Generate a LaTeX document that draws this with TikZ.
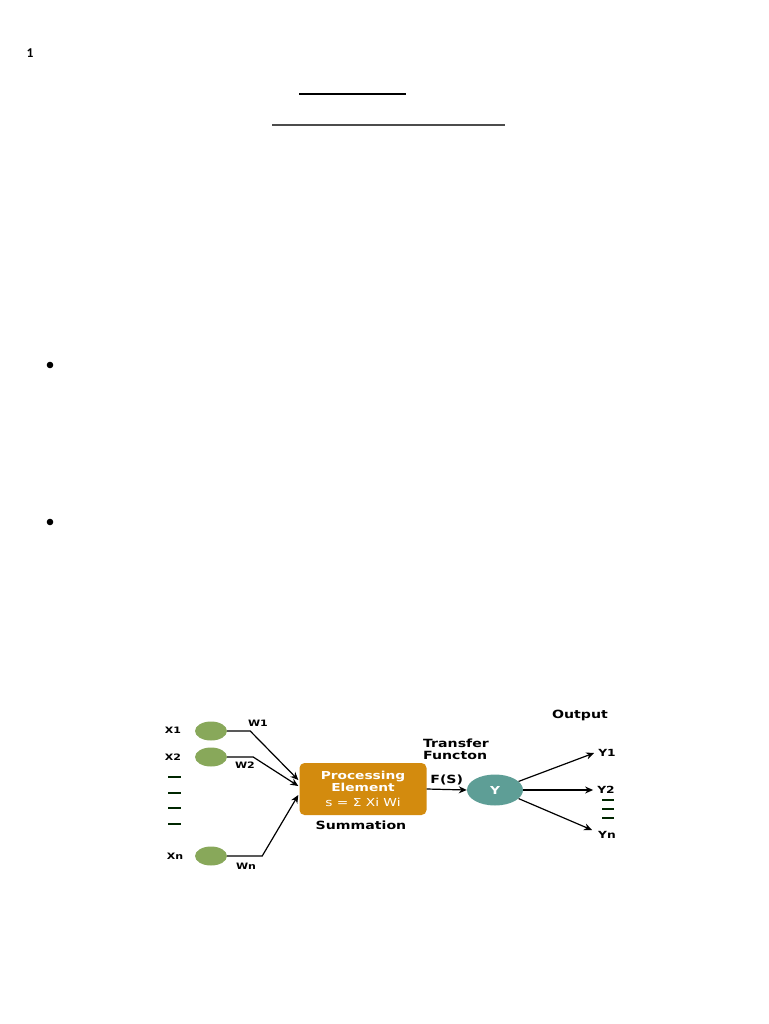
\documentclass[tikz,border=0pt]{standalone}
\usepackage{fontspec}
\setmainfont{DejaVu Sans}
\newfontfamily\diafont[FakeStretch=1.25]{DejaVu Sans}
\newfontfamily\pagefont{Carlito}
\usetikzlibrary{arrows.meta,positioning,shapes.geometric,calc}
\definecolor{inpgreen}{HTML}{88A85A}
\definecolor{peorange}{HTML}{D38B0E}
\definecolor{outteal}{HTML}{5E9E96}
\tikzset{
  lbl/.style={font=\diafont\bfseries\fontsize{8.8}{9}\selectfont,inner sep=1pt},
  ylbl/.style={font=\diafont\bfseries\fontsize{9.8}{11}\selectfont,inner sep=1pt},
  big/.style={font=\diafont\bfseries\fontsize{11.3}{13}\selectfont,inner sep=1pt,align=left},
  inp/.style={ellipse,fill=inpgreen,minimum width=32pt,minimum height=19pt,inner sep=0pt},
  pbox/.style={rounded corners=5pt,fill=peorange,minimum width=127pt,minimum height=52pt,
    text=white,align=center,font=\diafont\bfseries\fontsize{11}{12}\selectfont},
  outn/.style={ellipse,fill=outteal,minimum width=56pt,minimum height=31pt,inner sep=0pt,
    text=white,font=\diafont\bfseries\fontsize{11}{12}\selectfont},
  wire/.style={-{Stealth[length=8pt,width=7pt]},line width=1.2pt},
  gapbar/.style={line width=2.6pt,black!85!green},
}

\begin{document}
\begin{tikzpicture}[x=1pt,y=-1pt]
  \useasboundingbox (0,0) rectangle (768,1024);
  % page marks
  \node[font=\pagefont\bfseries\fontsize{13.5}{14}\selectfont] (pgnum) at (30,53) {1};
  \draw[line width=1.8pt] (299,94) -- (406,94);
  \draw[line width=1.3pt,black!70] (272,125) -- (505,125);
  \fill (50,365) circle (3.3);
  \fill (50,522) circle (3.3);

  % inputs
  \node[lbl] (x1) at (173,730) {X1};
  \node[lbl] (x2) at (173,757) {X2};
  \node[lbl] (xn) at (175,856) {Xn};
  \node[inp] (i1) at (211,731) {};
  \node[inp] (i2) at (211,757) {};
  \node[inp] (in) at (211,856) {};
  \foreach \y in {777,793,808,824}
    \draw[gapbar] (168,\y) -- (181,\y);

  \node[pbox] (pe) at (363,789) {Processing\\Element\\[3pt]{\mdseries s = Σ Xi Wi}};
  \node[big] (summ) at (361,825) {Summation};

  \draw[wire] (i1.east) -- ++(23,0) -- ([yshift=9pt,xshift=-1pt]pe.west);
  \draw[wire] (i2.east) -- ++(26,0) -- ([yshift=3pt,xshift=-1pt]pe.west);
  \draw[wire] (in.east) -- ++(35,0) -- ([yshift=-6pt,xshift=-1pt]pe.west);
  \node[lbl] (w1) at (258,723) {W1};
  \node[lbl] (w2) at (245,765) {W2};
  \node[lbl] (wn) at (246,866) {Wn};

  % transfer and outputs
  \node[outn] (y) at (495,790) {Y};
  \draw[wire] (pe.east) -- node[big,above=3pt] (fs) {F(S)} (y.west);
  \node[big,align=left] (tf) at (456,749) {Transfer\\[-1pt]Functon};
  \node[big] (outp) at (580,715) {Output};
  \node[ylbl] (o1) at (607,753) {Y1};
  \node[ylbl] (o2) at (606,790) {Y2};
  \node[ylbl] (o3) at (607,835) {Yn};
  \draw[wire] (y.20) -- ([xshift=-3pt]o1.west);
  \draw[wire] (y.east) -- ([xshift=-3pt]o2.west);
  \draw[wire] (y.-20) -- ([xshift=-5pt,yshift=5pt]o3.west);
  \foreach \y in {800,809,818}
    \draw[gapbar] (602,\y) -- (614,\y);
\end{tikzpicture}
\end{document}
